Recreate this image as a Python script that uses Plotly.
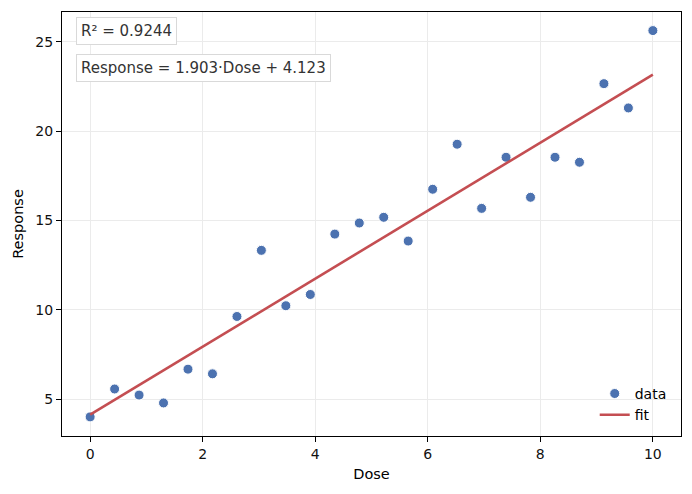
import plotly.graph_objects as go

dose = [0.0, 0.435, 0.870, 1.304, 1.739, 2.174, 2.609, 3.043, 3.478, 3.913,
        4.348, 4.783, 5.217, 5.652, 6.087, 6.522, 6.957, 7.391, 7.826, 8.261,
        8.696, 9.130, 9.565, 10.0]
response = [4.00, 5.56, 5.22, 4.78, 6.67, 6.41, 9.62, 13.32, 10.22, 10.85,
            14.23, 14.85, 15.17, 13.84, 16.74, 19.26, 15.67, 18.53, 16.29, 18.53,
            18.25, 22.65, 21.29, 25.62]
slope = 1.903
intercept = 4.123
r2 = 0.9244
x_ticks = [0, 2, 4, 6, 8, 10]
y_ticks = [5, 10, 15, 20, 25]

fit_x = [min(dose), max(dose)]
fit_y = [slope * v + intercept for v in fit_x]

font = "DejaVu Sans"
fig = go.Figure()
fig.add_trace(go.Scatter(
    x=dose, y=response, mode="markers", name="data",
    marker=dict(color="#4c72b0", size=10, line=dict(color="white", width=1)),
))
fig.add_trace(go.Scatter(
    x=fit_x, y=fit_y, mode="lines", name="fit",
    line=dict(color="#c44e52", width=2.6),
))

axis_common = dict(
    showline=True, linecolor="black", linewidth=1, mirror=True,
    ticks="outside", ticklen=5, tickcolor="black",
    showgrid=True, gridcolor="#ebebeb", gridwidth=1, zeroline=False,
    tickfont=dict(size=14, color="#111111"),
)
fig.update_xaxes(range=[-0.5, 10.5], tickvals=x_ticks,
                 title=dict(text="Dose", font=dict(size=14.5, color="black"), standoff=8),
                 **axis_common)
fig.update_yaxes(range=[2.93, 26.66], tickvals=y_ticks,
                 title=dict(text="Response", font=dict(size=14.5, color="black"), standoff=8),
                 **axis_common)

ann_common = dict(xref="paper", yref="paper", xanchor="left", yanchor="middle",
                  showarrow=False, bgcolor="white", bordercolor="#d9d9d9",
                  borderwidth=1, borderpad=4,
                  font=dict(family=font, size=15, color="#333333"))
fig.add_annotation(x=0.0226, y=0.9557, text=f"R² = {r2:.4f}", **ann_common)
fig.add_annotation(x=0.0226, y=0.869,
                   text=f"Response = {slope:.3f}·Dose + {intercept:.3f}", **ann_common)

fig.update_layout(
    width=692, height=494,
    margin=dict(l=62, r=11, t=12, b=58),
    paper_bgcolor="white", plot_bgcolor="white",
    font=dict(family=font, size=14, color="black"),
    showlegend=True,
    legend=dict(x=0.985, y=0.012, xanchor="right", yanchor="bottom",
                bgcolor="rgba(0,0,0,0)", font=dict(size=14),
                itemwidth=30, tracegroupgap=0),
)

fig.write_html("out.html", config={"displayModeBar": False},
               post_script="document.body.style.margin='0';document.body.style.padding='0';")
